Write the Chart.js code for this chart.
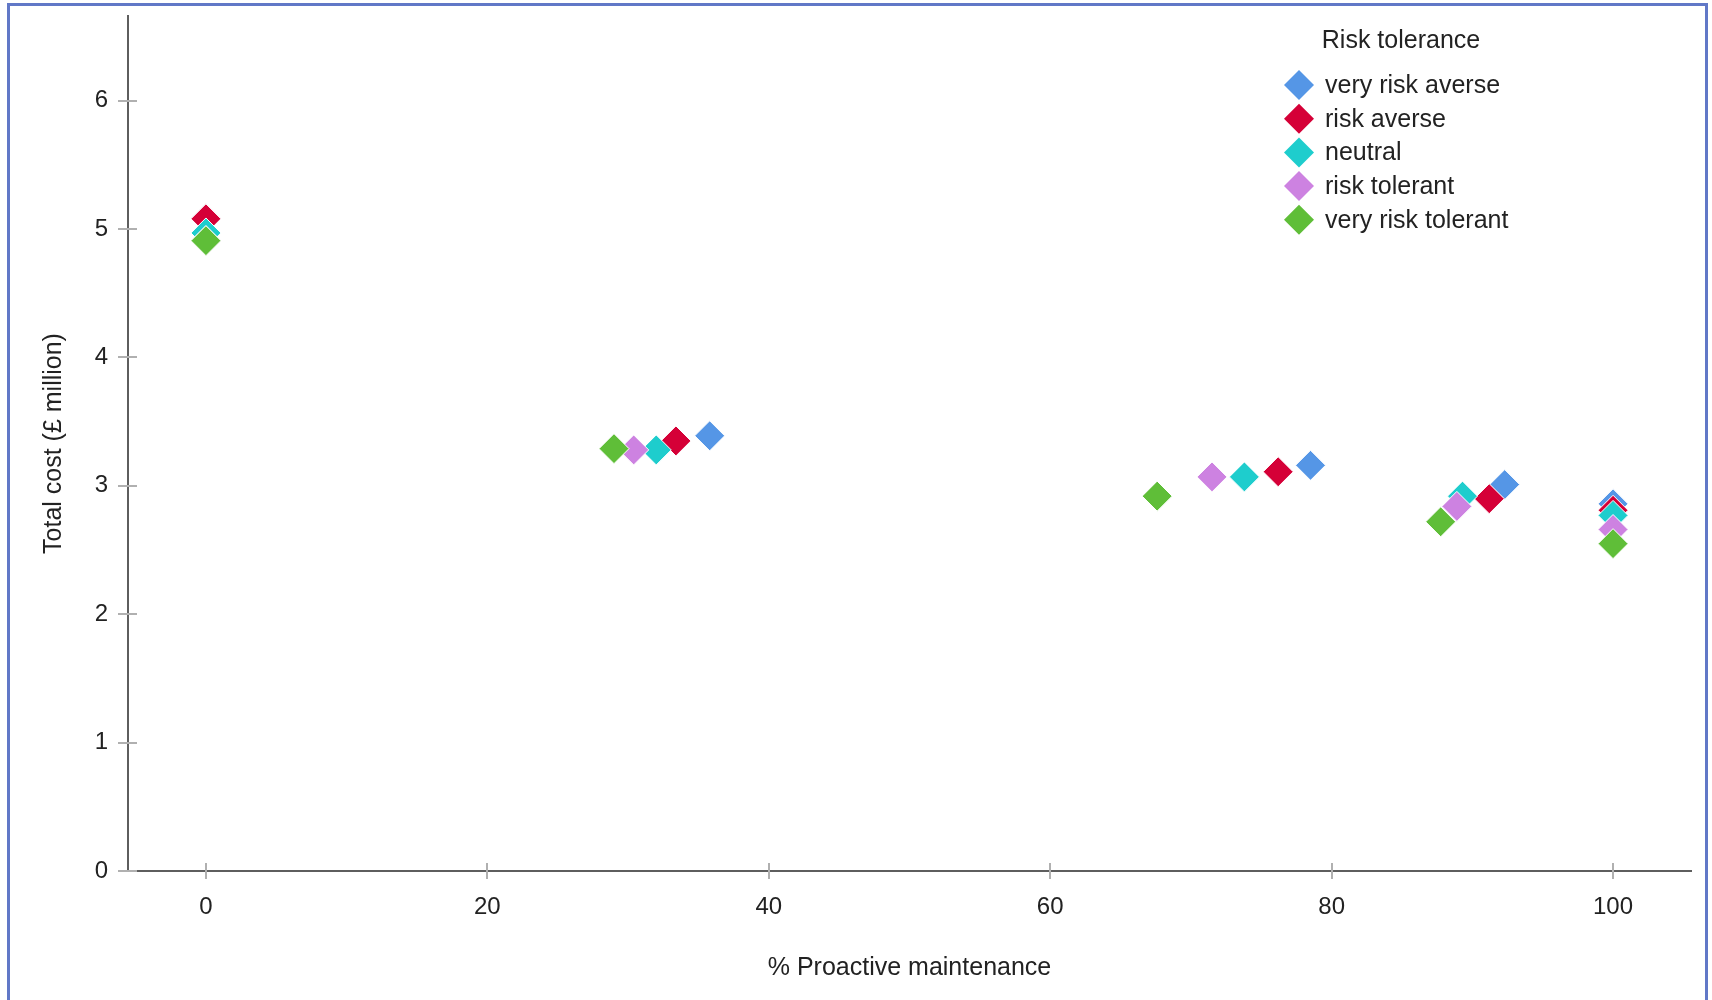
<!DOCTYPE html>
<html>
<head>
<meta charset="utf-8">
<script src="https://cdn.jsdelivr.net/npm/chart.js@4.4.1/dist/chart.umd.min.js"></script>
<style>
  html, body { margin: 0; padding: 0; background: #fff; overflow: hidden; }
  #wrap { position: relative; width: 1712px; height: 1000px; }
  #frame {
    position: absolute; left: 7px; top: 3px; width: 1695px; height: 1100px;
    border: 3px solid #6178c7; pointer-events: none;
  }
</style>
</head>
<body>
<div id="wrap">
  <canvas id="chart" width="1712" height="1000"></canvas>
  <div id="frame"></div>
</div>
<script>
(function () {
  'use strict';

  // series (x = % proactive maintenance, y = total cost in £ million)
  const seriesNames = ['very risk averse', 'risk averse', 'neutral', 'risk tolerant', 'very risk tolerant'];
  const seriesColors = ['#5596e6', '#d50037', '#1ecdcd', '#cd82e1', '#5fbe38'];

  const veryRiskAverseX = [0, 35.8, 78.5, 92.3, 100];
  const veryRiskAverseY = [5.08, 3.39, 3.16, 3.01, 2.86];
  const riskAverseX = [0, 33.4, 76.2, 91.2, 100];
  const riskAverseY = [5.08, 3.35, 3.11, 2.90, 2.81];
  const neutralX = [0, 32.0, 73.8, 89.3, 100];
  const neutralY = [4.97, 3.28, 3.07, 2.92, 2.77];
  const riskTolerantX = [0, 30.4, 71.5, 88.9, 100];
  const riskTolerantY = [4.91, 3.28, 3.07, 2.84, 2.66];
  const veryRiskTolerantX = [0, 29.0, 67.6, 87.75, 100];
  const veryRiskTolerantY = [4.91, 3.29, 2.92, 2.72, 2.55];

  const xTicks = [0, 20, 40, 60, 80, 100];
  const yTicks = [0, 1, 2, 3, 4, 5, 6];

  const allX = [veryRiskAverseX, riskAverseX, neutralX, riskTolerantX, veryRiskTolerantX];
  const allY = [veryRiskAverseY, riskAverseY, neutralY, riskTolerantY, veryRiskTolerantY];

  const FONT = '"Liberation Sans", Arial, sans-serif';
  const TEXT = '#222222';

  function toPoints(xs, ys) {
    return xs.map(function (x, i) { return { x: x, y: ys[i] }; });
  }

  const datasets = seriesNames.map(function (name, i) {
    return {
      label: name,
      data: toPoints(allX[i], allY[i]),
      backgroundColor: seriesColors[i],
      borderColor: '#ffffff',
      borderWidth: 1,
      pointStyle: 'rectRot',
      pointRadius: 15,
      pointHoverRadius: 15,
      order: seriesNames.length - i,
    };
  });

  // small tick marks that cross the axis lines
  const crossTicks = {
    id: 'crossTicks',
    beforeDatasetsDraw: function (chart) {
      const ctx = chart.ctx;
      const xs = chart.scales.x, ys = chart.scales.y;
      const area = chart.chartArea;
      ctx.save();
      ctx.strokeStyle = '#b0b0b0';
      ctx.lineWidth = 2;
      xTicks.forEach(function (v) {
        const px = Math.round(xs.getPixelForValue(v));
        ctx.beginPath();
        ctx.moveTo(px, area.bottom - 8);
        ctx.lineTo(px, area.bottom + 8);
        ctx.stroke();
      });
      yTicks.forEach(function (v) {
        const py = Math.round(ys.getPixelForValue(v));
        ctx.beginPath();
        ctx.moveTo(area.left - 10, py);
        ctx.lineTo(area.left + 9, py);
        ctx.stroke();
      });
      ctx.restore();
    },
  };

  // legend with title, drawn inside the plot at top right
  const diamondLegend = {
    id: 'diamondLegend',
    afterDraw: function (chart) {
      const ctx = chart.ctx;
      ctx.save();
      ctx.fillStyle = TEXT;
      ctx.font = '25px ' + FONT;
      ctx.textAlign = 'center';
      ctx.textBaseline = 'middle';
      ctx.fillText('Risk tolerance', 1401, 41);
      chart.data.datasets.forEach(function (ds, i) {
        const cy = 85 + i * 33.7;
        const cx = 1299;
        const r = 15;
        ctx.beginPath();
        ctx.moveTo(cx, cy - r);
        ctx.lineTo(cx + r, cy);
        ctx.lineTo(cx, cy + r);
        ctx.lineTo(cx - r, cy);
        ctx.closePath();
        ctx.fillStyle = ds.backgroundColor;
        ctx.fill();
        ctx.fillStyle = TEXT;
        ctx.textAlign = 'left';
        ctx.fillText(ds.label, 1325, cy + 1);
      });
      ctx.restore();
    },
  };

  new Chart(document.getElementById('chart'), {
    type: 'scatter',
    data: { datasets: datasets },
    plugins: [crossTicks, diamondLegend],
    options: {
      responsive: false,
      animation: false,
      events: [],
      layout: { padding: { left: 12, right: 21, top: 14, bottom: 0 } },
      plugins: { legend: { display: false }, tooltip: { enabled: false } },
      scales: {
        x: {
          type: 'linear',
          min: -5.54,
          max: 105.54,
          afterBuildTicks: function (scale) {
            scale.ticks = xTicks.map(function (v) { return { value: v }; });
          },
          afterFit: function (scale) {
            scale.height = 129;
            scale.paddingLeft = 0;
            scale.paddingRight = 0;
          },
          grid: { display: false, drawTicks: false },
          border: { display: true, color: '#5e5e5e', width: 2 },
          ticks: {
            padding: 22,
            color: TEXT,
            font: { family: FONT, size: 24 },
          },
          title: {
            display: true,
            text: '% Proactive maintenance',
            color: TEXT,
            font: { family: FONT, size: 25 },
            padding: { top: 0, bottom: 17 },
          },
        },
        y: {
          type: 'linear',
          min: 0,
          max: 6.66,
          afterBuildTicks: function (scale) {
            scale.ticks = yTicks.map(function (v) { return { value: v }; });
          },
          afterFit: function (scale) {
            scale.width = 116;
            scale.paddingTop = 0;
            scale.paddingBottom = 0;
          },
          grid: { display: false, drawTicks: false },
          border: { display: true, color: '#5e5e5e', width: 2 },
          ticks: {
            padding: 20,
            color: TEXT,
            font: { family: FONT, size: 24 },
          },
          title: {
            display: true,
            text: 'Total cost (£ million)',
            color: TEXT,
            font: { family: FONT, size: 25 },
            padding: { top: 27, bottom: 0 },
          },
        },
      },
    },
  });
})();
</script>
</body>
</html>
